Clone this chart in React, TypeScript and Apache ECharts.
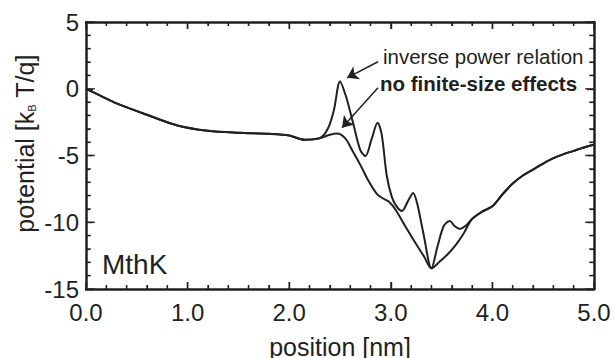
import React, { useEffect, useRef } from "react";
import * as echarts from "echarts";

// Inverse power relation (with finite-size peaks)
const positionInv = [0, 0.15, 0.3, 0.6, 0.9, 1.2, 1.5, 1.8, 2.0, 2.15, 2.3, 2.38, 2.44, 2.5, 2.56, 2.63, 2.7, 2.75, 2.81, 2.87, 2.91, 2.96, 3.01, 3.06, 3.11, 3.17, 3.22, 3.26, 3.32, 3.4, 3.46, 3.52, 3.58, 3.63, 3.68, 3.74, 3.8, 3.9, 4.0, 4.1, 4.2, 4.3, 4.4, 4.5, 4.6, 4.7, 4.8, 4.9, 5.0];
const potentialInv = [0, -0.55, -1.1, -1.95, -2.75, -3.15, -3.3, -3.38, -3.5, -3.82, -3.7, -3.0, -1.6, 0.55, -0.6, -2.6, -4.6, -5.05, -3.8, -2.55, -3.4, -6.5, -8.1, -8.85, -9.15, -8.4, -7.8, -8.6, -10.8, -13.45, -11.8, -10.3, -9.9, -10.3, -10.5, -10.25, -9.75, -9.2, -8.8, -7.9, -7.1, -6.5, -6.05, -5.6, -5.2, -4.9, -4.65, -4.4, -4.2];

// No finite-size effects (smooth)
const positionNoFS = [0, 0.15, 0.3, 0.6, 0.9, 1.2, 1.5, 1.8, 2.0, 2.15, 2.3, 2.4, 2.47, 2.55, 2.62, 2.7, 2.78, 2.86, 2.92, 2.98, 3.05, 3.15, 3.25, 3.33, 3.4, 3.48, 3.56, 3.64, 3.72, 3.8, 3.9, 4.0, 4.1, 4.2, 4.3, 4.4, 4.5, 4.6, 4.7, 4.8, 4.9, 5.0];
const potentialNoFS = [0, -0.55, -1.1, -1.95, -2.75, -3.15, -3.3, -3.38, -3.5, -3.82, -3.7, -3.45, -3.35, -3.7, -4.6, -5.7, -6.9, -7.85, -8.2, -8.45, -9.1, -10.4, -11.65, -12.6, -13.45, -12.95, -12.4, -11.7, -10.8, -9.75, -9.2, -8.8, -7.9, -7.1, -6.5, -6.05, -5.6, -5.2, -4.9, -4.65, -4.4, -4.2];

const xRange = { min: 0, max: 5, interval: 1 };
const yRange = { min: -15, max: 5, interval: 5 };
const xMajorTicks = [0, 1, 2, 3, 4, 5];
const xMinorTicks = [0.2, 0.4, 0.6, 0.8, 1.2, 1.4, 1.6, 1.8, 2.2, 2.4, 2.6, 2.8, 3.2, 3.4, 3.6, 3.8, 4.2, 4.4, 4.6, 4.8];
const yMajorTicks = [-15, -10, -5, 0, 5];
const yMinorTicks = [-14, -13, -12, -11, -9, -8, -7, -6, -4, -3, -2, -1, 1, 2, 3, 4];

const labelInv = "inverse power relation";
const labelNoFS = "no finite-size effects";
const labelPanel = "MthK";

const INK = "#231f20";
const FONT = "'Liberation Sans', Arial, Helvetica, sans-serif";

export default function App() {
  const ref = useRef<HTMLDivElement>(null);
  useEffect(() => {
    if (!ref.current) return;
    document.body.style.margin = "0";
    const chart = echarts.init(ref.current, undefined, { renderer: "svg" });
    const toPairs = (xs: number[], ys: number[]) => xs.map((x, i) => [x, ys[i]]);

    const frame = {
      axisLine: { show: true, onZero: false, lineStyle: { color: INK, width: 2.5 } },
      axisTick: { show: true, inside: true, length: 7, lineStyle: { color: INK, width: 1.4 } },
      minorTick: { show: true, splitNumber: 5, length: 4, lineStyle: { color: INK, width: 1.2 } },
      splitLine: { show: false },
      minorSplitLine: { show: false },
    };

    // tick marks drawn as thin rectangles placed by the axes' scales
    const tickSeries = (data: number[][], size: number[], offset: number[]) => ({
      type: "scatter", data, symbol: "rect", symbolSize: size, symbolOffset: offset,
      itemStyle: { color: INK }, silent: true, clip: false, z: 5,
      emphasis: { disabled: true }, tooltip: { show: false },
    });
    const TW = 1.5;
    const ticks = [
      tickSeries(xMajorTicks.map((v) => [v, yRange.min]), [TW, 7], [0, -3.5]),
      tickSeries(xMinorTicks.map((v) => [v, yRange.min]), [TW, 4], [0, -2]),
      tickSeries(xMajorTicks.map((v) => [v, yRange.max]), [TW, 7], [0, 3.5]),
      tickSeries(xMinorTicks.map((v) => [v, yRange.max]), [TW, 4], [0, 2]),
      tickSeries(yMajorTicks.map((v) => [xRange.min, v]), [9, TW], [4.5, 0]),
      tickSeries(yMinorTicks.map((v) => [xRange.min, v]), [5, TW], [2.5, 0]),
      tickSeries(yMajorTicks.map((v) => [xRange.max, v]), [9, TW], [-4.5, 0]),
      tickSeries(yMinorTicks.map((v) => [xRange.max, v]), [5, TW], [-2.5, 0]),
    ];

    const option: any = {
      animation: false,
      backgroundColor: "#ffffff",
      grid: { left: 86, right: 21, top: 22, bottom: 69, containLabel: false, outerBoundsMode: "none" },
      xAxis: [
        {
          type: "value", ...xRange, position: "bottom", ...frame,
          axisLabel: { color: INK, fontSize: 24, fontFamily: FONT, margin: 11, formatter: (v: number) => v.toFixed(1) },
          name: "position [nm]", nameLocation: "middle", nameGap: 45,
          nameTextStyle: { color: INK, fontSize: 25, fontFamily: FONT },
        },
        { type: "value", ...xRange, position: "top", ...frame, axisLabel: { show: false } },
      ],
      yAxis: [
        {
          type: "value", ...yRange, position: "left", ...frame,
          axisLabel: { color: INK, fontSize: 24, fontFamily: FONT, margin: 7 },
        },
        { type: "value", ...yRange, position: "right", ...frame, axisLabel: { show: false } },
      ],
      series: [
        {
          type: "line", data: toPairs(positionInv, potentialInv), smooth: 0.3, showSymbol: false,
          lineStyle: { color: INK, width: 2 }, silent: true,
          markLine: {
            silent: true, symbol: ["none", "arrow"], symbolSize: 11,
            label: { show: false },
            lineStyle: { color: INK, width: 1.5, type: "solid" },
            emphasis: { disabled: true },
            data: [
              [{ coord: [2.874, 2.02] }, { coord: [2.569, 0.82] }],
              [{ coord: [2.874, 0.07] }, { coord: [2.52, -2.92] }],
            ],
          },
        },
        {
          type: "line", data: toPairs(positionNoFS, potentialNoFS), smooth: 0.3, showSymbol: false,
          lineStyle: { color: INK, width: 2 }, silent: true,
        },
        ...ticks,
      ],
    };
    chart.setOption(option);

    const px = (x: number, y: number) => chart.convertToPixel({ xAxisIndex: 0, yAxisIndex: 0 }, [x, y]) as number[];
    const pInv = px(2.923, 2.4);
    const pNo = px(2.894, 0.37);
    const pPanel = px(0.157, -13.18);
    const top = px(0, yRange.max)[1];
    const bottom = px(0, yRange.min)[1];
    const yTitleY = (top + bottom) / 2 - 12;

    chart.setOption({
      graphic: [
        { type: "text", x: pInv[0], y: pInv[1], style: { text: labelInv, fill: INK, font: `20.5px ${FONT}`, align: "left", verticalAlign: "middle" } },
        { type: "text", x: pNo[0], y: pNo[1], style: { text: labelNoFS, fill: INK, font: `bold 20.5px ${FONT}`, align: "left", verticalAlign: "middle" } },
        { type: "text", x: pPanel[0], y: pPanel[1], style: { text: labelPanel, fill: INK, font: `28px ${FONT}`, align: "left", verticalAlign: "middle" } },
        {
          type: "text", x: 23, y: yTitleY, rotation: Math.PI / 2,
          style: {
            text: "{a|potential [k}{b|B}{a| T/q]}",
            align: "center", verticalAlign: "middle", fill: INK,
            rich: {
              a: { fontSize: 25, fontFamily: FONT, fill: INK, verticalAlign: "bottom", lineHeight: 28 },
              b: { fontSize: 11, fontFamily: FONT, fill: INK, verticalAlign: "bottom", lineHeight: 24 },
            },
          },
        },
      ],
    });

    return () => chart.dispose();
  }, []);
  return <div ref={ref} style={{ width: 615, height: 358 }} />;
}
